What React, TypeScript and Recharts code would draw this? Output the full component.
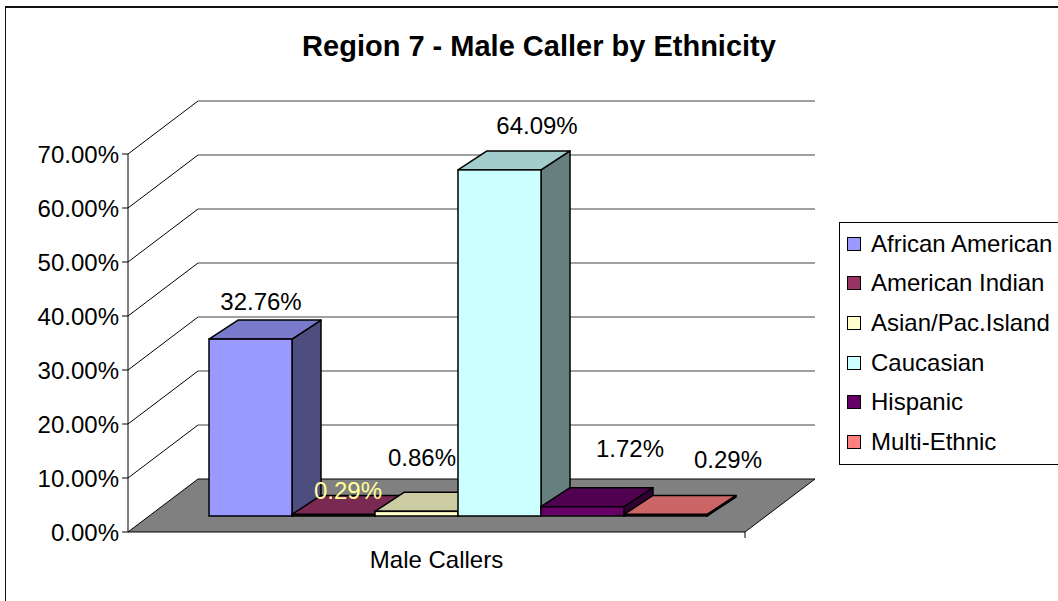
import React from 'react';
import { BarChart, Bar, XAxis, YAxis, CartesianGrid, Legend } from 'recharts';

// chart values
const categories = ['Male Callers'];
const seriesKeys = ['african', 'indian', 'asian', 'caucasian', 'hispanic', 'multi'];
const seriesNames = ['African American', 'American Indian', 'Asian/Pac.Island', 'Caucasian', 'Hispanic', 'Multi-Ethnic'];
const maleCallerShares = [0.3276, 0.0029, 0.0086, 0.6409, 0.0172, 0.0029];
const yTicks = [0, 0.1, 0.2, 0.3, 0.4, 0.5, 0.6, 0.7];

// face colours: front, top (a bit darker), side (half)
const FRONT = ['#9999FF', '#993366', '#FFFFCC', '#CCFFFF', '#660066', '#FF8080'];
const TOP = ['#7A7ACC', '#7A2952', '#CCCCA3', '#A3CCCC', '#520052', '#CC6666'];
const SIDE = ['#4D4D80', '#4D1A33', '#808066', '#668080', '#330033', '#804040'];
const LABEL_COLOR = ['#000', '#FFFF99', '#000', '#000', '#000', '#000'];
// Excel places the value labels a bit loosely in 3D
const LABEL_SHIFT = [[-4, -19], [0, -5], [-9, -35], [23, -25], [33, -39], [48, -36]];

const FONT = '"Liberation Sans", Arial, sans-serif';
const WALL_DX = 70;  // depth of the floor / side wall
const WALL_DY = -53;
const BAR_DX = 21;   // bars sit a bit back from the front edge
const BAR_DY = -16;
const BOX_DX = 29;   // depth of each box
const BOX_DY = -19;

const data = categories.map((name) => {
  const row: Record<string, any> = { name };
  seriesKeys.forEach((k, i) => {
    row[k] = maleCallerShares[i];
  });
  return row;
});

const Box3D = (props: any) => {
  const { x, y, width, height, idx } = props;
  if (width == null || height == null) return null;
  const bx = x + BAR_DX;
  const by = y + BAR_DY;
  const w = width;
  const h = Math.max(height, 0);
  const top = `${bx},${by} ${bx + BOX_DX},${by + BOX_DY} ${bx + w + BOX_DX},${by + BOX_DY} ${bx + w},${by}`;
  const side = `${bx + w},${by} ${bx + w + BOX_DX},${by + BOX_DY} ${bx + w + BOX_DX},${by + h + BOX_DY} ${bx + w},${by + h}`;
  return (
    <g>
      <polygon points={side} fill={SIDE[idx]} stroke="#000" strokeWidth={1.5} strokeLinejoin="round" />
      <polygon points={top} fill={TOP[idx]} stroke="#000" strokeWidth={1.5} strokeLinejoin="round" />
      <rect x={bx} y={by} width={w} height={h} fill={FRONT[idx]} stroke="#000" strokeWidth={1.5} />
    </g>
  );
};

const renderValueLabel = (props: any, idx: number) => {
  const { x, y, width, value } = props;
  const cx = x + BAR_DX + width / 2 + BOX_DX / 2 + LABEL_SHIFT[idx][0];
  const cy = y + BAR_DY + BOX_DY + LABEL_SHIFT[idx][1];
  return (
    <text
      key={`lbl-${idx}`}
      x={cx}
      y={cy}
      textAnchor="middle"
      dominantBaseline="central"
      fontFamily={FONT}
      fontSize={24}
      fill={LABEL_COLOR[idx]}
    >
      {(value * 100).toFixed(2)}%
    </text>
  );
};

// each horizontal grid line becomes a side-wall diagonal + a back-wall line,
// the bottom one becomes the grey floor
const renderGridLine = (p: any) => {
  const { x1, y1, x2, index } = p;
  const isFloor = p.y != null && p.height != null && Math.abs(y1 - (p.y + p.height)) < 0.5;
  if (isFloor) {
    return (
      <g key={`grid-${index}`}>
        <polygon
          points={`${x1},${y1} ${x1 + WALL_DX},${y1 + WALL_DY} ${x2 + WALL_DX},${y1 + WALL_DY} ${x2},${y1}`}
          fill="#808080"
          stroke="#000"
          strokeWidth={1}
        />
        <line x1={x2} y1={y1} x2={x2} y2={y1 + 6} stroke="#000" />
      </g>
    );
  }
  return (
    <g key={`grid-${index}`}>
      <line x1={x1} y1={y1} x2={x1 + WALL_DX} y2={y1 + WALL_DY} stroke="#000" strokeWidth={1} />
      <line x1={x1 + WALL_DX} y1={y1 + WALL_DY} x2={x2 + WALL_DX} y2={y1 + WALL_DY} stroke="#808080" strokeWidth={1.5} />
    </g>
  );
};

const renderLegend = (props: any) => {
  const { payload } = props;
  return (
    <div
      style={{
        border: '1px solid #000',
        height: 243,
        boxSizing: 'border-box',
        paddingTop: 1,
        fontFamily: FONT,
        fontSize: 24,
        background: '#fff',
      }}
    >
      {(payload || []).map((entry: any) => (
        <div key={entry.value} style={{ height: 39.6, display: 'flex', alignItems: 'center', whiteSpace: 'nowrap' }}>
          <span
            style={{
              display: 'inline-block',
              width: 12,
              height: 12,
              marginLeft: 7,
              marginRight: 10,
              border: '1px solid #000',
              background: entry.color,
            }}
          />
          <span>{entry.value}</span>
        </div>
      ))}
    </div>
  );
};

export default function App() {
  return (
    <div style={{ position: 'absolute', left: 0, top: 0, width: 1058, height: 601, overflow: 'hidden', background: '#fff' }}>
      <div
        style={{
          position: 'absolute',
          left: 5,
          top: 6,
          width: 1060,
          height: 610,
          borderTop: '2px solid #111',
          borderLeft: '1.5px solid #111',
        }}
      />
      <div
        style={{
          position: 'absolute',
          left: 0,
          top: 28,
          width: 1078,
          textAlign: 'center',
          fontFamily: FONT,
          fontWeight: 'bold',
          fontSize: 29,
          lineHeight: '36px',
        }}
      >
        Region 7 - Male Caller by Ethnicity
      </div>
      <div style={{ position: 'absolute', left: 0, top: 0 }}>
        <BarChart
          width={1058}
          height={601}
          data={data}
          margin={{ top: 154, right: 313, bottom: 39, left: 28 }}
          barCategoryGap={60}
          barGap={0}
        >
          <CartesianGrid vertical={false} horizontal={renderGridLine} />
          <XAxis
            dataKey="name"
            height={30}
            axisLine={false}
            tickLine={false}
            tickSize={0}
            tickMargin={19}
            tick={{ fontSize: 24, fill: '#000', fontFamily: FONT }}
          />
          <YAxis
            width={100}
            domain={[0, 0.7]}
            ticks={yTicks}
            interval={0}
            tickFormatter={(v: number) => `${(v * 100).toFixed(2)}%`}
            axisLine={{ stroke: '#000' }}
            tickLine={{ stroke: '#000' }}
            tickSize={6}
            tickMargin={3}
            tick={{ fontSize: 24, fill: '#000', fontFamily: FONT }}
          />
          <Legend
            layout="vertical"
            align="center"
            verticalAlign="middle"
            content={renderLegend}
            wrapperStyle={{ left: 839, top: 222, width: 240, height: 243 }}
          />
          {seriesKeys.map((k, i) => (
            <Bar
              key={k}
              dataKey={k}
              name={seriesNames[i]}
              fill={FRONT[i]}
              isAnimationActive={false}
              shape={(p: any) => <Box3D {...p} idx={i} />}
              label={(p: any) => renderValueLabel(p, i)}
            />
          ))}
        </BarChart>
      </div>
    </div>
  );
}
